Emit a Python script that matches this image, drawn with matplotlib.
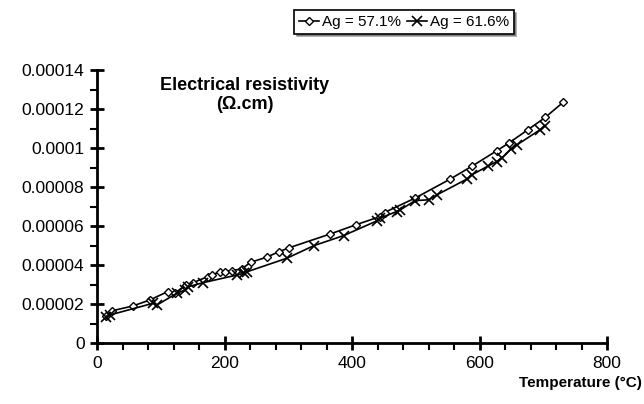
import matplotlib
matplotlib.use("Agg")
import matplotlib.pyplot as plt
from matplotlib.ticker import MultipleLocator

plt.rcParams['font.family'] = ['Liberation Sans', 'DejaVu Sans']

# Ag = 57.1 %
t_571 = [14, 23, 56, 83, 111, 122, 140, 151, 174, 180, 193, 201, 211, 227, 241, 266, 286, 301,
         365, 406, 444, 451, 499, 554, 589, 627, 646, 676, 703, 731]
r_571 = [1.40e-5, 1.66e-5, 1.91e-5, 2.22e-5, 2.65e-5, 2.58e-5, 2.99e-5, 3.11e-5, 3.42e-5, 3.50e-5,
         3.67e-5, 3.67e-5, 3.72e-5, 3.81e-5, 4.15e-5, 4.41e-5, 4.70e-5, 4.89e-5,
         5.59e-5, 6.07e-5, 6.49e-5, 6.70e-5, 7.44e-5, 8.41e-5, 9.09e-5, 9.86e-5, 1.026e-4,
         1.094e-4, 1.157e-4, 1.234e-4]

# Ag = 61.6 %
t_616 = [14, 20, 88, 94, 125, 138, 143, 167, 220, 230, 236, 298, 340, 387, 439, 444, 470, 476,
         499, 520, 533, 580, 588, 614, 627, 635, 649, 659, 695, 703]
r_616 = [1.35e-5, 1.45e-5, 2.05e-5, 1.96e-5, 2.56e-5, 2.73e-5, 2.90e-5, 3.11e-5, 3.50e-5, 3.59e-5,
         3.67e-5, 4.36e-5, 5.00e-5, 5.52e-5, 6.27e-5, 6.41e-5, 6.75e-5, 6.84e-5, 7.31e-5, 7.35e-5,
         7.60e-5, 8.41e-5, 8.63e-5, 9.09e-5, 9.31e-5, 9.49e-5, 9.95e-5, 1.017e-4, 1.094e-4, 1.114e-4]

y_ticks = [0, 0.00002, 0.00004, 0.00006, 0.00008, 0.0001, 0.00012, 0.00014]
y_labels = ["0", "0.00002", "0.00004", "0.00006", "0.00008", "0.0001", "0.00012", "0.00014"]
x_ticks = [0, 200, 400, 600, 800]

fig = plt.figure(figsize=(6.44, 4.04), dpi=100)
ax = fig.add_axes([97/644, (404-343.3)/404, 510/644, 273.3/404])

l1, = ax.plot(t_571, r_571, color='black', lw=1.2, marker='D', markersize=4.5,
              markerfacecolor='white', markeredgecolor='black', markeredgewidth=1.0,
              label='Ag = 57.1%')
l2, = ax.plot(t_616, r_616, color='black', lw=1.2, marker='x', markersize=7,
              markeredgewidth=1.2, label='Ag = 61.6%')

ax.set_xlim(0, 800)
ax.set_ylim(0, 0.00014)
ax.set_xticks(x_ticks)
ax.set_yticks(y_ticks)
ax.set_yticklabels(y_labels)
ax.xaxis.set_minor_locator(MultipleLocator(40))
ax.yaxis.set_minor_locator(MultipleLocator(0.00001))

for s in ['top', 'right']:
    ax.spines[s].set_visible(False)
for s in ['left', 'bottom']:
    ax.spines[s].set_linewidth(2.0)

ax.tick_params(axis='both', which='major', direction='inout', length=10, width=2,
               labelsize=12.5, pad=4)
ax.tick_params(axis='both', which='minor', direction='out', length=5, width=1.5)

ax.text(0.29, 0.975, "Electrical resistivity\n(\u03a9.cm)", transform=ax.transAxes,
        ha='center', va='top', fontsize=13, fontweight='bold', linespacing=1.2)
fig.text(642/644, 1 - 383/404, "Temperature (\u00b0C)", ha='right', va='center',
         fontsize=11, fontweight='bold')

leg = fig.legend(handles=[l1, l2], loc='center', bbox_to_anchor=(404/644, 1 - 22/404),
                 ncol=2, frameon=True, fancybox=False, shadow=True, fontsize=11,
                 handlelength=1.3, handletextpad=0.2, columnspacing=0.4,
                 borderpad=0.3, edgecolor='black')
leg.get_frame().set_linewidth(1.2)

fig.savefig("out.png", dpi=100)
